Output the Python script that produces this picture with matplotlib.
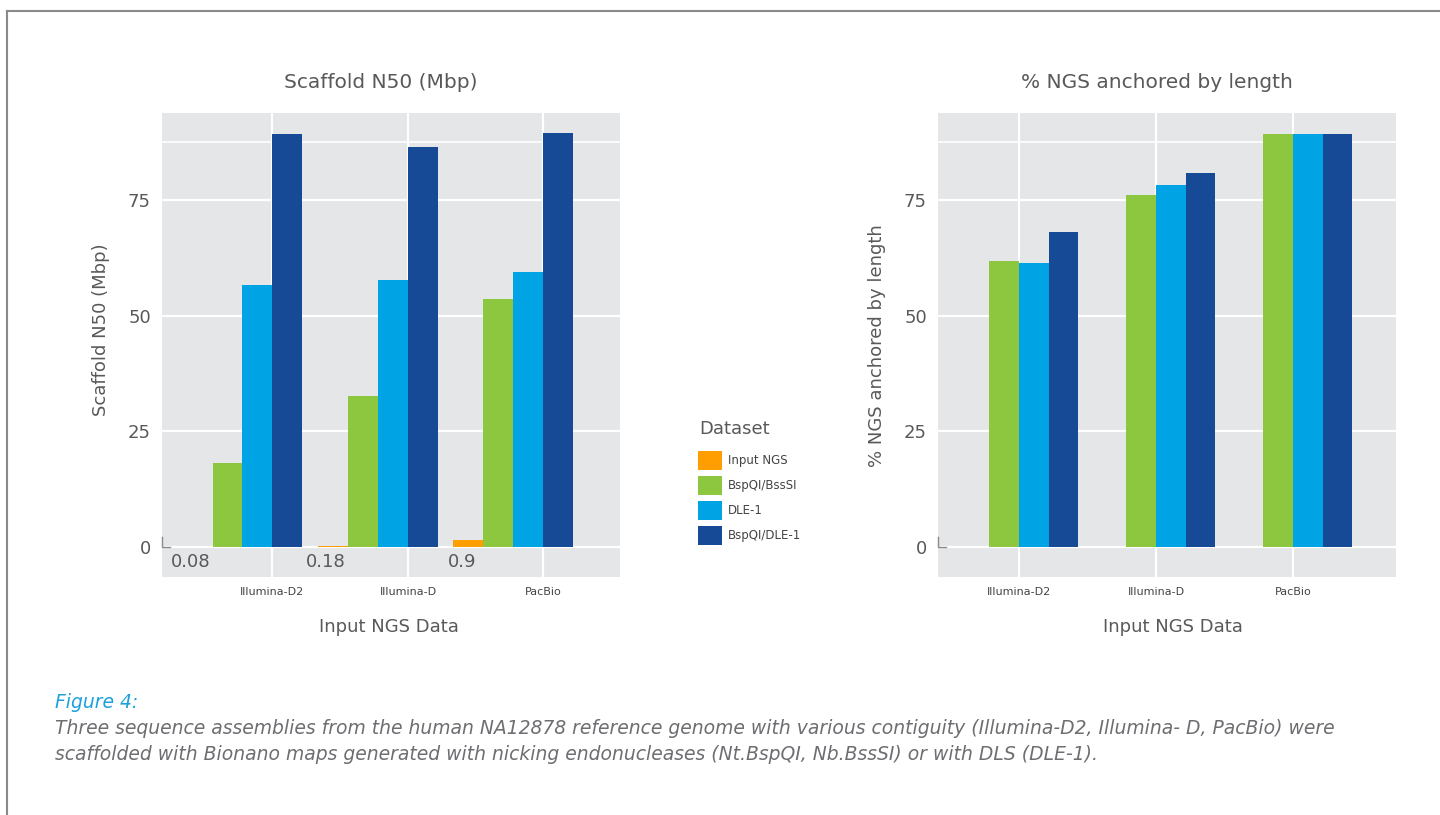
import numpy as np
import matplotlib
matplotlib.use('Agg')
import matplotlib.pyplot as plt
from matplotlib.lines import Line2D

plt.rcParams['font.family'] = ['DejaVu Sans']

# Данные
groups = ['Illumina-D2', 'Illumina-D', 'PacBio']
series = ['Input NGS', 'BspQI/BssSI', 'DLE-1', 'BspQI/DLE-1']
colors = ['#ff9e00', '#8dc63f', '#00a3e3', '#174a96']

# Scaffold N50 (Mbp)
n50_input = [0.08, 0.18, 1.5]
n50_input_labels = ['0.08', '0.18', '0.9']
n50_bspqi_bsssi = [18.2, 32.6, 53.6]
n50_dle1 = [56.6, 57.7, 59.4]
n50_bspqi_dle1 = [89.3, 86.4, 89.5]

# % NGS anchored by length
anch_bspqi_bsssi = [61.8, 76.1, 89.3]
anch_dle1 = [61.4, 78.2, 89.3]
anch_bspqi_dle1 = [68.1, 80.8, 89.3]

W, H = 1440, 815
fig = plt.figure(figsize=(W / 100, H / 100), dpi=100)
fig.patch.set_facecolor('white')

txt = '#58595b'
panel = '#e5e6e8'


def px_axes(x0, y0, x1, y1):
    return fig.add_axes([x0 / W, 1 - y1 / H, (x1 - x0) / W, (y1 - y0) / H])


def style(ax, xlim):
    ax.set_facecolor(panel)
    for s in ax.spines.values():
        s.set_visible(False)
    ax.set_xlim(*xlim)
    ax.set_ylim(-6.5, 93.8)
    ax.set_yticks([0, 25, 50, 75])
    ax.set_xticks(np.arange(1, 4))
    ax.set_xticklabels(groups, fontsize=8, color='#444444')
    ax.tick_params(axis='both', length=0)
    ax.tick_params(axis='y', labelsize=13, labelcolor=txt, pad=8)
    ax.tick_params(axis='x', pad=7)
    ax.grid(True, color='white', linewidth=1.6)
    ax.axhline(87.5, color='white', linewidth=1.2, zorder=0.5)
    ax.set_axisbelow(True)
    # маленький уголок у нуля
    x0 = xlim[0]
    dx = (xlim[1] - xlim[0]) * 8 / 458
    ax.plot([x0, x0, x0 + dx], [2.2, 0, 0], color='#8a8a8a', lw=1, clip_on=False)


x = np.arange(1, 4)

# Левый график
ax1 = px_axes(162, 113, 620, 577)
w1 = 0.2214
vals1 = [n50_input, n50_bspqi_bsssi, n50_dle1, n50_bspqi_dle1]
offs1 = [-2.5, -1.5, -0.5, 0.5]
handles = []
for v, o, c, lab in zip(vals1, offs1, colors, series):
    b = ax1.bar(x + o * w1, v, width=w1, color=c, label=lab, linewidth=0)
    handles.append(b)
for xi, lab in zip(x, n50_input_labels):
    ax1.text(xi - 2.5 * w1 - 0.05, -3.3, lab, fontsize=13, color=txt,
             ha='center', va='center')
style(ax1, (0.1845, 3.5646))

# Правый график
ax2 = px_axes(938, 113, 1396, 577)
w2 = 0.217
vals2 = [anch_bspqi_bsssi, anch_dle1, anch_bspqi_dle1]
offs2 = [-0.5, 0.5, 1.5]
for v, o, c in zip(vals2, offs2, colors[1:]):
    ax2.bar(x + o * w2, v, width=w2, color=c, linewidth=0)
style(ax2, (0.409, 3.752))

# Заголовки и подписи осей
fig.text(381 / W, 1 - 82 / H, 'Scaffold N50 (Mbp)', fontsize=14.5, color=txt,
         ha='center', va='center')
fig.text(1157 / W, 1 - 82 / H, '% NGS anchored by length', fontsize=14.5,
         color=txt, ha='center', va='center')
fig.text(389 / W, 1 - 627 / H, 'Input NGS Data', fontsize=13, color=txt,
         ha='center', va='center')
fig.text(1173 / W, 1 - 627 / H, 'Input NGS Data', fontsize=13, color=txt,
         ha='center', va='center')
fig.text(101 / W, 1 - 330 / H, 'Scaffold N50 (Mbp)', fontsize=13, color=txt,
         ha='center', va='center', rotation=90)
fig.text(877 / W, 1 - 346 / H, '% NGS anchored by length', fontsize=13,
         color=txt, ha='center', va='center', rotation=90)

# Легенда
fig.text(699 / W, 1 - 429 / H, 'Dataset', fontsize=13, color=txt,
         ha='left', va='center')
leg = fig.legend(handles=handles, labels=series, loc='upper left',
                 bbox_to_anchor=(698 / W, 1 - 451 / H), frameon=False,
                 fontsize=8.5, handlelength=2.05, handleheight=2.1,
                 labelspacing=0.5, handletextpad=0.45, borderpad=0,
                 borderaxespad=0)
for t in leg.get_texts():
    t.set_color('#444444')

# Подпись к рисунку
fig.text(55 / W, 1 - 703 / H, 'Figure 4:', fontsize=13.5, color='#1da1dc',
         style='italic', ha='left', va='center')
fig.text(55 / W, 1 - 728 / H,
         'Three sequence assemblies from the human NA12878 reference genome with '
         'various contiguity (Illumina-D2, Illumina- D, PacBio) were',
         fontsize=13.5, color='#6d6e71', style='italic', ha='left', va='center')
fig.text(55 / W, 1 - 755 / H,
         'scaffolded with Bionano maps generated with nicking endonucleases '
         '(Nt.BspQI, Nb.BssSI) or with DLS (DLE-1).',
         fontsize=13.5, color='#6d6e71', style='italic', ha='left', va='center')

# Рамка
fig.add_artist(Line2D([7 / W, 1], [1 - 11 / H, 1 - 11 / H], color='#8a8a8a', lw=1.5))
fig.add_artist(Line2D([7 / W, 7 / W], [1 - 11 / H, 0], color='#8a8a8a', lw=1.5))

fig.savefig('out.png', dpi=100)
